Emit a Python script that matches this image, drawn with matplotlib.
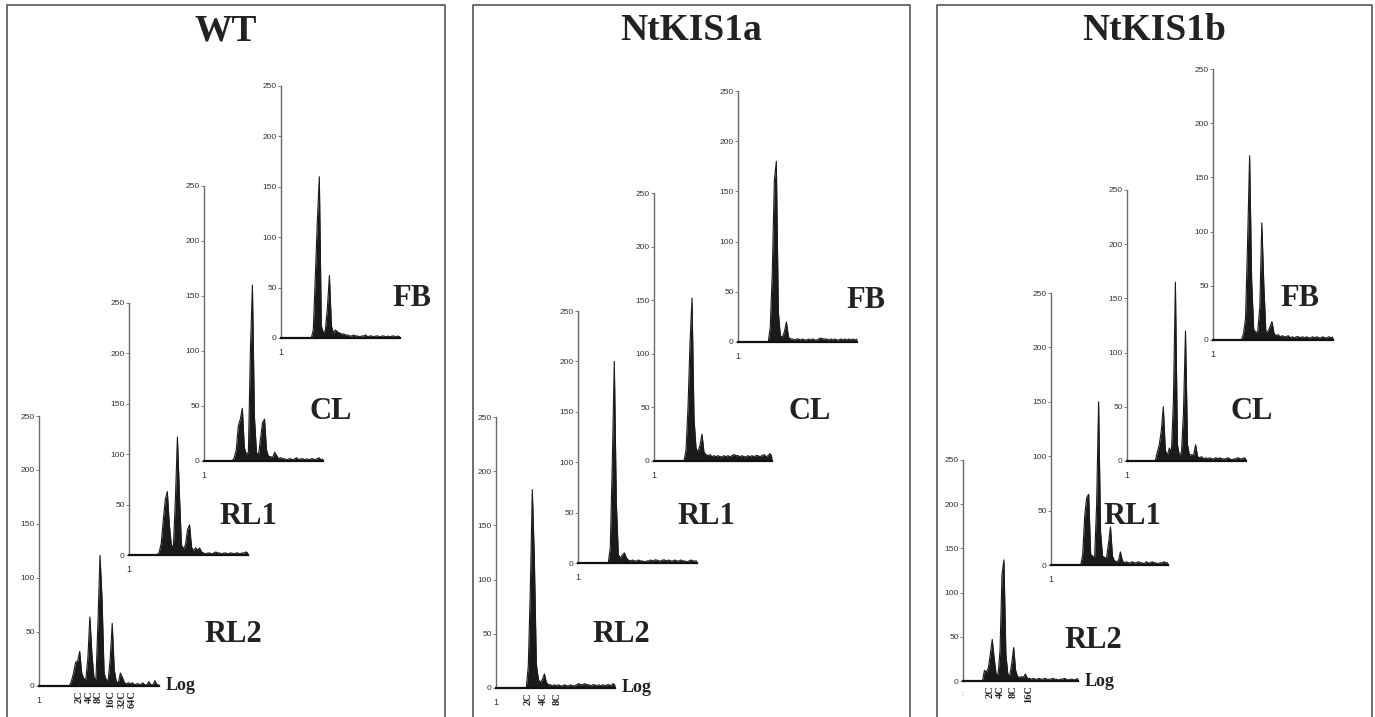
import numpy as np
import matplotlib
matplotlib.use('Agg')
import matplotlib.pyplot as plt

W, H = 1375, 717

# ---- data: DNA content histograms (counts per channel bin) ----
genotypes = ['WT', 'NtKIS1a', 'NtKIS1b']
tissues = ['RL2', 'RL1', 'CL', 'FB']

wt_rl2 = [0]*16 + [5, 12, 22, 23, 32, 12, 7, 6, 25, 64, 30, 8, 6, 60, 121, 80, 12, 6, 5, 25,
                   58, 15, 4, 3, 12, 8, 3, 2, 3, 2, 3, 1, 2, 2, 1, 3, 1, 1, 4, 1, 1, 5, 1, 1]
wt_rl1 = [0]*15 + [3, 12, 35, 55, 63, 30, 10, 8, 55, 117, 60, 10, 6, 10, 25, 30, 8, 4, 7, 5,
                   7, 3, 2, 1, 2, 2, 1, 2, 3, 2, 2, 1, 2, 2, 1, 2, 2, 1, 2, 2, 1, 2, 2, 3, 2]
wt_cl = [0]*15 + [3, 10, 32, 38, 48, 12, 6, 8, 100, 160, 40, 8, 5, 20, 35, 38, 10, 4, 4, 3,
                  8, 5, 2, 3, 2, 2, 1, 2, 2, 1, 2, 3, 1, 2, 2, 1, 2, 1, 2, 2, 1, 2, 3, 1, 2]
wt_fb = [0]*16 + [8, 60, 115, 160, 12, 5, 8, 30, 62, 12, 5, 8, 6, 5, 4, 4, 3, 3, 2, 2,
                  3, 2, 2, 1, 2, 2, 3, 1, 2, 2, 1, 2, 2, 1, 2, 2, 1, 2, 1, 2, 2, 1, 2, 1]

a_rl2 = [0]*16 + [20, 90, 183, 120, 22, 8, 5, 8, 13, 5, 3, 3, 2, 3, 2, 3, 2, 2, 3, 2,
                  2, 3, 2, 2, 3, 4, 3, 3, 4, 3, 3, 2, 3, 3, 2, 3, 2, 3, 2, 3, 3, 2, 4, 3]
a_rl1 = [0]*16 + [15, 100, 200, 60, 8, 5, 8, 10, 5, 3, 2, 3, 2, 2, 3, 2, 2, 1, 2, 2,
                  3, 2, 3, 3, 2, 2, 3, 3, 2, 3, 2, 2, 3, 2, 2, 3, 2, 2, 1, 2, 3, 2, 2, 2]
a_cl = [0]*16 + [10, 50, 110, 152, 40, 12, 8, 15, 25, 8, 6, 5, 6, 4, 5, 4, 5, 4, 4, 5,
                 4, 5, 4, 5, 6, 5, 5, 4, 5, 4, 4, 5, 4, 5, 4, 5, 5, 4, 5, 6, 4, 5, 7, 4]
a_fb = [0]*16 + [15, 70, 160, 180, 30, 6, 5, 10, 20, 5, 3, 3, 2, 3, 3, 2, 3, 2, 2, 3,
                 2, 3, 2, 2, 3, 4, 3, 3, 3, 2, 3, 2, 3, 2, 2, 3, 2, 3, 2, 3, 2, 3, 2, 3]

b_rl2 = [0]*11 + [12, 10, 15, 30, 47, 25, 8, 7, 35, 120, 137, 30, 8, 6, 20, 38, 12, 5, 4, 5,
                  4, 8, 3, 3, 2, 3, 2, 2, 3, 2, 2, 3, 2, 2, 2, 3, 2, 2, 1, 2, 2, 3, 2, 1, 2,
                  2, 1, 2, 3]
b_rl1 = [0]*16 + [10, 45, 62, 65, 10, 8, 7, 55, 150, 30, 8, 7, 6, 20, 35, 8, 4, 3, 4, 12,
                  4, 2, 3, 2, 2, 3, 2, 2, 3, 2, 2, 1, 3, 2, 2, 3, 2, 2, 1, 2, 2, 3, 2, 2]
b_cl = [0]*15 + [8, 15, 28, 50, 10, 5, 12, 8, 55, 165, 15, 5, 8, 45, 120, 15, 5, 6, 5, 15,
                 4, 3, 4, 2, 3, 2, 3, 2, 2, 3, 2, 3, 2, 2, 2, 3, 2, 1, 2, 2, 3, 2, 2, 3, 2]
b_fb = [0]*15 + [6, 20, 90, 170, 55, 10, 7, 8, 30, 108, 50, 7, 8, 12, 17, 6, 4, 5, 3, 4,
                 3, 3, 4, 2, 3, 2, 3, 3, 2, 3, 2, 3, 2, 2, 3, 2, 3, 2, 2, 3, 2, 2, 3, 2, 3]

hists = {
    'WT': [wt_rl2, wt_rl1, wt_cl, wt_fb],
    'NtKIS1a': [a_rl2, a_rl1, a_cl, a_fb],
    'NtKIS1b': [b_rl2, b_rl1, b_cl, b_fb],
}
ploidy = {
    'WT': ['2C', '4C', '8C', '16C', '32C', '64C'],
    'NtKIS1a': ['2C', '4C', '8C'],
    'NtKIS1b': ['2C', '4C', '8C', '16C'],
}
ploidy_bins = {
    'WT': [19.5, 25, 29, 35, 41, 46],
    'NtKIS1a': [16, 23.5, 30.5],
    'NtKIS1b': [14, 19, 25.5, 33.5],
}
yticks = [0, 50, 100, 150, 200, 250]

# ---- layout (pixels): y-axis x, y of 0, y of 250, x-axis end ----
layout = {
    'WT': [(39, 686, 416, 159), (129, 555, 303, 248), (204, 461, 186, 323), (281, 338, 86, 400)],
    'NtKIS1a': [(496, 688, 417, 615), (578, 563, 311, 697), (654, 461, 193, 772), (738, 342, 91, 857)],
    'NtKIS1b': [(963, 681, 460, 1078), (1051, 565, 293, 1168), (1127, 461, 190, 1246), (1213, 340, 69, 1333)],
}
label_pos = {
    'WT': [(233, 634), (248, 517), (331, 412), (412, 298)],
    'NtKIS1a': [(621, 635), (706, 517), (810, 412), (866, 300)],
    'NtKIS1b': [(1093, 640), (1132, 517), (1252, 412), (1300, 299)],
}
panel_box = {'WT': (7, 445), 'NtKIS1a': (473, 910), 'NtKIS1b': (937, 1372)}

serif = ['Liberation Serif', 'DejaVu Serif']
narrow = ['Liberation Sans Narrow', 'Liberation Sans', 'DejaVu Sans']

fig = plt.figure(figsize=(W/100, H/100), dpi=100)


def fx(px):
    return px / W


def fy(py):
    return 1 - py / H


for g in genotypes:
    x0, x1 = panel_box[g]
    fig.add_artist(plt.Line2D([fx(x0), fx(x0), fx(x1), fx(x1)], [0, fy(5), fy(5), 0],
                              color='#555555', lw=1.2, transform=fig.transFigure))
    fig.text(fx((x0 + x1) / 2), fy(31), g, family=serif, weight='bold', fontsize=27,
             ha='center', va='center', color='#222222')

    for i, t in enumerate(tissues):
        axx, y0, y250, xend = layout[g][i]
        ax = fig.add_axes([fx(axx), fy(y0), (xend - axx) / W, (y0 - y250) / H])
        ax.patch.set_visible(False)
        vals = np.array(hists[g][i], dtype=float)
        xs = np.arange(len(vals))
        ax.fill_between(xs, vals, color='#1a1a1a', lw=0)
        ax.plot(xs, vals, color='#1a1a1a', lw=0.8)
        ax.set_xlim(0, len(vals) - 1)
        ax.set_ylim(0, 250)
        for s in ['top', 'right']:
            ax.spines[s].set_visible(False)
        ax.spines['left'].set_color('#6a6a6a')
        ax.spines['left'].set_linewidth(1.0)
        ax.spines['bottom'].set_color('#111111')
        ax.spines['bottom'].set_linewidth(1.6)
        ax.set_yticks(yticks)
        ax.set_yticklabels([str(v) for v in yticks], family=narrow, fontsize=6, color='#333333')
        ax.tick_params(axis='y', direction='out', length=2, width=0.6, color='#6a6a6a', pad=1)
        ax.set_xticks([0])
        if g == 'NtKIS1b' and t == 'RL2':
            ax.set_xticklabels(['\u02d0'], fontsize=5, color='#aaaaaa')
        else:
            ax.set_xticklabels(['1'], family=narrow, fontsize=6.5, color='#333333')
        ax.tick_params(axis='x', length=0, pad=7)

        lx, ly = label_pos[g][i]
        fig.text(fx(lx), fy(ly), t, family=serif, weight='bold', fontsize=22,
                 ha='center', va='center', color='#222222')

        if t == 'RL2':
            ax.annotate('Log', xy=(1.0, 0.0), xycoords='axes fraction', xytext=(5, 0),
                        textcoords='offset points', family=serif, weight='bold',
                        fontsize=13, ha='left', va='center', color='#222222')
            for lab, b in zip(ploidy[g], ploidy_bins[g]):
                ax.annotate(lab, xy=(b, 0), xytext=(0, -3), textcoords='offset points',
                            rotation=90, family=serif, weight='bold', fontsize=7.5,
                            ha='center', va='top', color='#222222', annotation_clip=False)

fig.savefig('out.png', dpi=100)
